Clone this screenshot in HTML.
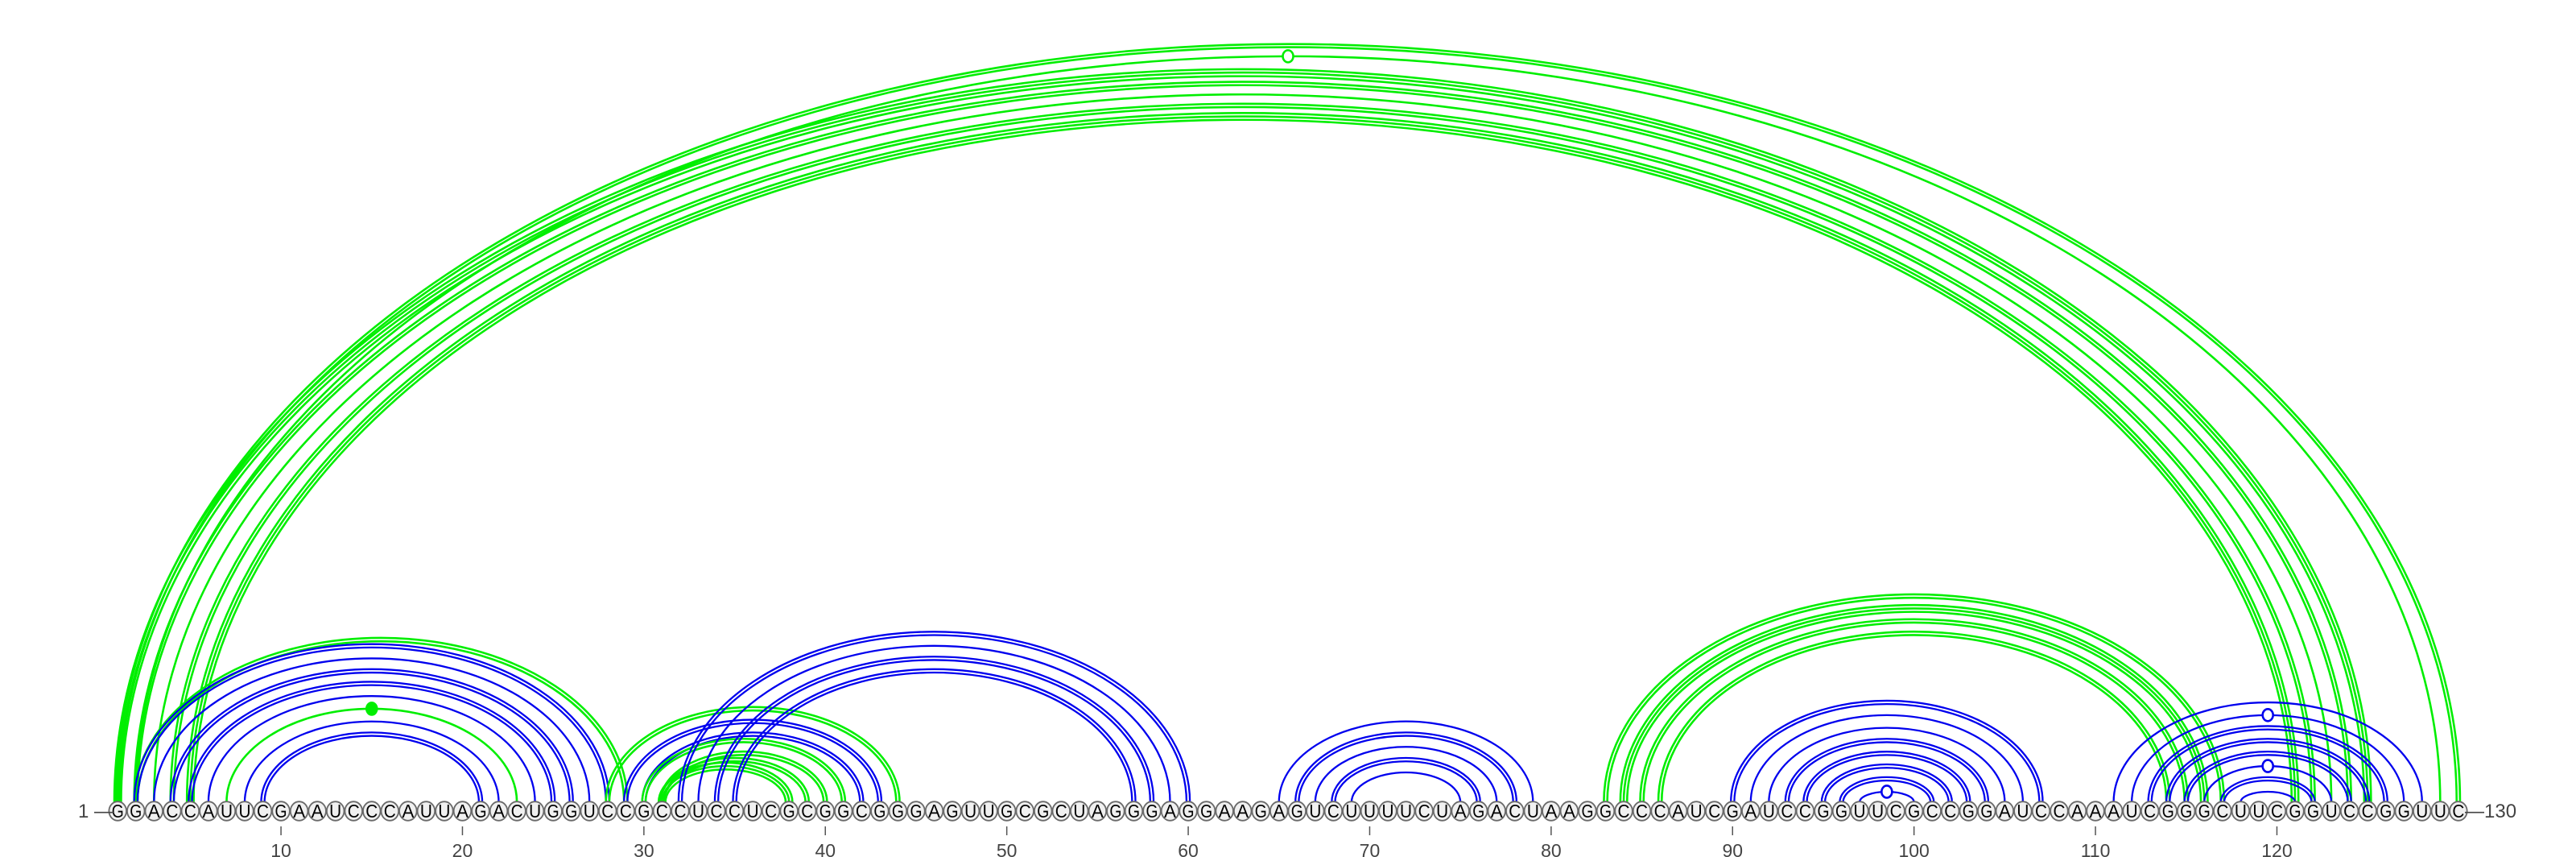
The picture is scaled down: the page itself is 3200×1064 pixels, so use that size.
<!DOCTYPE html>
<html><head><meta charset="utf-8"><style>
html,body{margin:0;padding:0;background:#fff;}
svg{display:block;}
text{font-family:"Liberation Sans",sans-serif;}
</style></head><body>
<svg id="chart" width="3200" height="1064" viewBox="0 0 3200 1064" xmlns="http://www.w3.org/2000/svg">
<g id="arcs"></g>
<g id="nts"></g>
<g id="axis"></g>
<text x="97" y="1015" font-size="24" fill="#444">1 —</text>
<text x="3062" y="1015" font-size="24" fill="#444">—130</text>
</svg>
<script>
const sequence = "GGACCAUUCGAAUCCCAUUAGACUGGUCCGCCUCCUCGCGGCGGGAGUUGCGCUAGGGAGGAAGAGUCUUUUCUAGACUAAGGCCCAUCGAUCCGGUUCGCCGGAUCCAAAUCGGGCUUCGGUCCGGUUC";
const arcStart = [1,2,1,2,3,4,5, 2,2,3,4,5,6,7,8,9, 28,29,30,30,31,31,31,32,33,34,35, 65,66,67,68,69, 83,84,85,86, 90,91,92,93,94,95,96,97, 111,112,113,114,115,116,117,118];
const arcEnd   = [130,129,125,124,123,122,121, 29,28,27,26,25,24,23,22,21, 44,43,42,41,40,39,38,60,59,58,57, 79,78,77,76,75, 117,116,115,114, 107,106,105,104,103,102,101,100, 128,127,126,125,124,123,122,121];
const arcColor = ["g","g","g","g","g","g","g", "g","b","b","b","b","b","g","b","b", "g","b","b","g","g","g","g","b","b","b","b", "b","b","b","b","b", "g","g","g","g", "b","b","b","b","b","b","b","b", "b","b","b","b","b","b","b","b"];
const arcLines = [2,1,3,2,1,2,3, 2,2,1,2,2,1,1,1,2, 2,2,2,2,2,2,3,2,1,2,2, 1,2,1,2,1, 2,3,2,2, 2,1,1,2,2,2,2,1, 1,1,2,2,2,1,2,1];
const arcMarker = ["","open","","","","","", "","","","","","","filled","","", "","","","","","","","","","","", "","","","","", "","","","", "","","","","","","","open", "","open","","","","open","",""];
const tickValues = [10,20,30,40,50,60,70,80,90,100,110,120];

const NS = "http://www.w3.org/2000/svg";
const X0 = 146.2, DX = 22.54, BASE = 1007, ATTACH = 996;
function xPos(i){ return X0 + (i-1)*DX; }
function arcHeight(w){ return w*(0.356 - 0.01*w/1000); }
const COLORS = {g:"#00ee00", b:"#0000ee"};

const arcsG = document.getElementById("arcs");
for (let k=0;k<arcStart.length;k++){
  const col = COLORS[arcColor[k]];
  const n = arcLines[k];
  const a = xPos(arcStart[k]), b = xPos(arcEnd[k]);
  for (let l=0;l<n;l++){
    const off = (l - (n-1)/2)*4.2;
    const x1 = a+off, x2 = b-off;
    const w = x2-x1;
    const top = BASE - arcHeight(b-a) + off;
    const ry = ATTACH - top, rx = w/2;
    const p = document.createElementNS(NS,"path");
    p.setAttribute("d", `M${x1},${ATTACH} A${rx},${ry} 0 0 1 ${x2},${ATTACH}`);
    p.setAttribute("fill","none");
    p.setAttribute("stroke",col);
    p.setAttribute("stroke-width", arcColor[k]==="g" ? "2.6" : "2.3");
    
    
    arcsG.appendChild(p);
  }
  if (arcMarker[k]){
    const c = document.createElementNS(NS,"ellipse");
    c.setAttribute("cx",(a+b)/2);
    c.setAttribute("cy",BASE - arcHeight(b-a));
    c.setAttribute("rx",6.5);
    c.setAttribute("ry",7.5);
    c.setAttribute("fill", arcMarker[k]==="filled" ? col : "#fff");
    c.setAttribute("stroke",col);
    c.setAttribute("stroke-width","2.6");
    
    
    arcsG.appendChild(c);
  }
}

const ntG = document.getElementById("nts");
for (let i=1;i<=sequence.length;i++){
  const g = document.createElementNS(NS,"g");
  
  
  const e = document.createElementNS(NS,"ellipse");
  e.setAttribute("cx",xPos(i)); e.setAttribute("cy",BASE);
  e.setAttribute("rx",10.8); e.setAttribute("ry",11.8);
  e.setAttribute("fill","#f0f0f0"); e.setAttribute("stroke","#6a6a6a"); e.setAttribute("stroke-width","1.8");
  g.appendChild(e);
  const t = document.createElementNS(NS,"text");
  t.setAttribute("x",xPos(i)); t.setAttribute("y",BASE+8);
  t.setAttribute("font-size","23"); t.setAttribute("text-anchor","middle"); t.setAttribute("fill","#000");
  t.setAttribute("textLength","15"); t.setAttribute("lengthAdjust","spacingAndGlyphs");
  t.textContent = sequence[i-1];
  g.appendChild(t);
  ntG.appendChild(g);
}

const axG = document.getElementById("axis");
for (const v of tickValues){
  const l = document.createElementNS(NS,"line");
  l.setAttribute("x1",xPos(v)); l.setAttribute("x2",xPos(v));
  l.setAttribute("y1",1026); l.setAttribute("y2",1037);
  l.setAttribute("stroke","#555"); l.setAttribute("stroke-width","1.5");
  
  
  axG.appendChild(l);
  const t = document.createElementNS(NS,"text");
  t.setAttribute("x",xPos(v)); t.setAttribute("y",1064);
  t.setAttribute("font-size","23"); t.setAttribute("text-anchor","middle"); t.setAttribute("fill","#444");
  t.textContent = v;
  
  
  axG.appendChild(t);
}
</script>
</body></html>
